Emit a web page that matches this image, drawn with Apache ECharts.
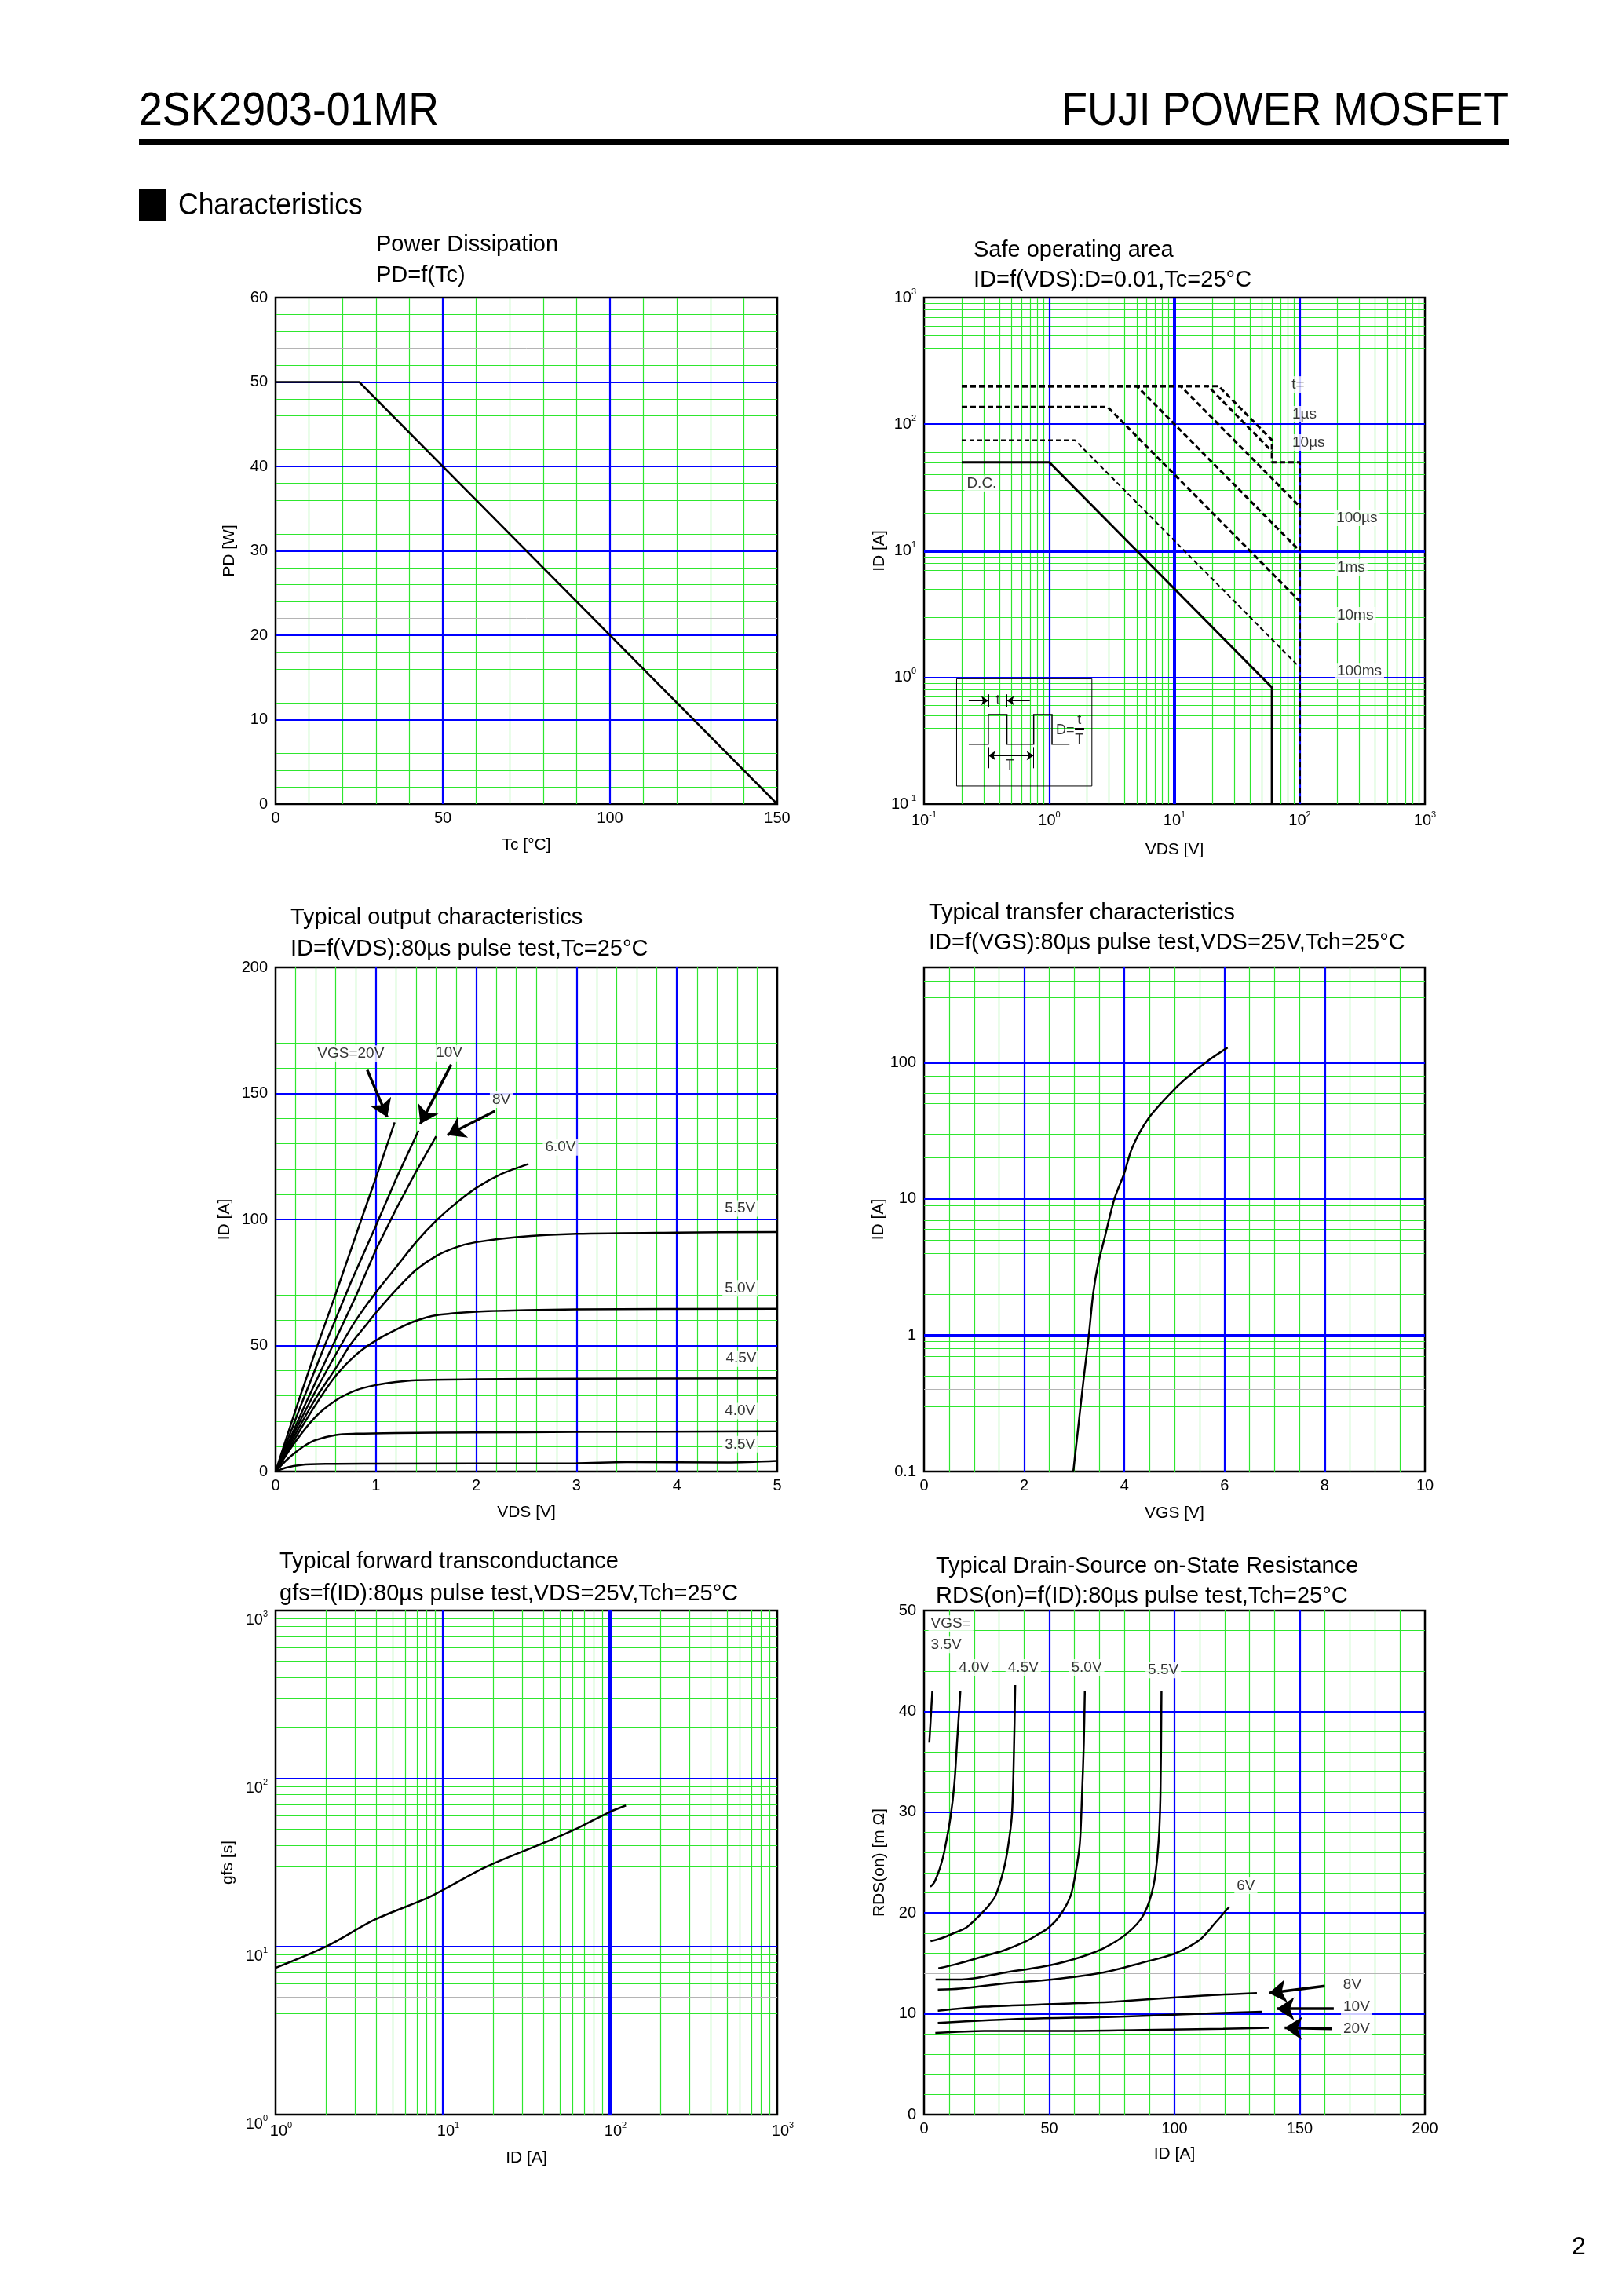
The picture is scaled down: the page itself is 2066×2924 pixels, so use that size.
<!DOCTYPE html>
<html><head><meta charset="utf-8">
<script src="https://cdn.jsdelivr.net/npm/echarts@6/dist/echarts.min.js"></script>
<style>html,body{margin:0;padding:0;background:#fff}#c{width:2066px;height:2924px}</style>
</head><body><div id="c"></div>
<script>
// ================= DATA =================
// 1) Power dissipation  PD=f(Tc)
const pdCurve = [[0,50],[25,50],[150,0]];
const pdXTicks = [0,50,100,150];
const pdYTicks = [0,10,20,30,40,50,60];

// 2) Safe operating area  ID=f(VDS)
const soaDC    = [[0.2,50],[1,50],[60,0.833],[60,0.1]];
const soa100ms = [[0.2,75],[1.6,75],[100,1.2]];
const soa10ms  = [[0.2,137],[2.92,137],[100,4.0]];
const soa1ms   = [[0.2,200],[5,200],[100,10]];
const soa100us = [[0.2,200],[11.2,200],[100,22.4]];
const soa10us  = [[0.2,200],[18.5,200],[60,61]];
const soa1us   = [[0.2,200],[22.5,200],[60,75],[60,50],[100,50],[100,0.1]];
const soaTicks = [0.1,1,10,100,1000];
const soaLabels = [['t=',82.6,206],['1µs',83.5,120],['10µs',83.5,71.8],['100µs',188,18.2],['1ms',190,7.4],['10ms',190,3.1],['100ms',190,1.12],['D.C.',0.21,34]];
const insetBox  = [[0.182,0.977],[2.19,0.977],[2.19,0.139],[0.182,0.139],[0.182,0.977]];
const insetWave = [[0.2275,0.297],[0.326,0.297],[0.326,0.509],[0.459,0.509],[0.459,0.297],[0.751,0.297],[0.751,0.509],[1.052,0.509],[1.052,0.297],[1.45,0.297]];
const insetTicks = [[[0.326,0.736],[0.326,0.585]],[[0.459,0.736],[0.459,0.585]],[[0.326,0.282],[0.326,0.192]],[[0.751,0.282],[0.751,0.192]]];
const insetArrows = [[[0.2275,0.656],[0.326,0.656]],[[0.70,0.656],[0.459,0.656]]];
const insetDouble = [[[0.326,0.2417],[0.751,0.2417]]];
const insetBar = [[[1.6,0.392],[1.9,0.392]]];
const insetLabels = [['t',0.388,0.656],['T',0.484,0.2],['D=',1.34,0.383],['t',1.74,0.46],['T',1.74,0.322]];

// 3) Typical output characteristics  ID=f(VDS)
const out20V = [[0,0],[0.2,24.5],[0.4,48],[0.6,70.5],[0.855,100],[1.0,116.5],[1.187,138.5]];
const out10V = [[0,0],[0.25,26],[0.49,50],[0.75,75],[1.0,97.5],[1.2,116],[1.425,135.3]];
const out8V  = [[0,0],[0.3,27],[0.57,50],[0.8,69.5],[1.0,88],[1.2,104],[1.4,119],[1.6,133]];
const out6V  = [[0,0],[0.2,16.5],[0.4,32],[0.65,50],[0.8,60],[1.0,71],[1.2,81],[1.4,91],[1.6,99.5],[1.8,106.5],[2.0,112.5],[2.25,118],[2.52,122]];
const out55V = [[0,0],[0.2,15],[0.4,29],[0.6,41],[0.74,50],[0.9,58],[1.0,63],[1.2,72],[1.4,80],[1.6,85.5],[1.8,89],[2.0,91],[2.4,93],[3.0,94.3],[4.0,94.8],[5.0,95]];
const out50V = [[0,0],[0.2,13.5],[0.4,26.5],[0.6,38],[0.8,46.3],[1.0,52],[1.2,56.3],[1.4,59.8],[1.6,62],[2.0,63.4],[2.5,64],[3.0,64.3],[5.0,64.6]];
const out45V = [[0,0],[0.2,12],[0.4,21.8],[0.6,28.2],[0.8,32.2],[1.0,34.3],[1.2,35.5],[1.4,36.2],[2.0,36.6],[3.0,36.8],[5.0,37]];
const out40V = [[0,0],[0.1,4.2],[0.2,7.6],[0.3,10.5],[0.4,12.5],[0.6,14.5],[0.8,15],[1.2,15.3],[2.0,15.5],[3.0,15.7],[5.0,16]];
const out35V = [[0,0],[0.1,1.5],[0.25,2.6],[0.5,3.0],[1.0,3.1],[3.0,3.3],[3.5,3.7],[4.5,3.6],[5.0,4.2]];
const outXTicks = [0,1,2,3,4,5];
const outYTicks = [0,50,100,150,200];
const outLabels = [['VGS=20V',0.75,165.8],['10V',1.73,166],['8V',2.25,147.5],['6.0V',2.84,128.6],['5.5V',4.63,104.4],['5.0V',4.63,72.7],['4.5V',4.64,44.8],['4.0V',4.63,24],['3.5V',4.63,10.8]];
const outArrows = [[[0.914,159.3],[1.113,140.6]],[[1.75,161.4],[1.443,137.9]],[[2.186,143],[1.713,133.5]]];

// 4) Typical transfer characteristics  ID=f(VGS)
const trCurve = [[2.98,0.1],[3.1,0.25],[3.2,0.53],[3.29,1.0],[3.38,2.07],[3.48,3.4],[3.6,5.1],[3.8,10],[3.99,15.2],[4.16,24],[4.48,39],[4.92,59.6],[5.2,75],[5.68,104],[6.06,129]];
const trXTicks = [0,2,4,6,8,10];
const trYTicks = [0.1,1,10,100];

// 5) Typical forward transconductance  gfs=f(ID)
const gfsCurve = [[1,7.47],[2.04,10.1],[3.94,14.5],[8.03,19.4],[10.1,21.8],[18.3,29.9],[39.4,41.1],[64.5,50.9],[100,63.4],[124.5,69.2]];
const gfsTicks = [1,10,100,1000];

// 6) Typical drain-source on-state resistance  RDS(on)=f(ID)
const r35V = [[2.1,36.9],[3.3,42]];
const r40V = [[2.5,22.6],[4.0,23.0],[5.7,24.0],[7.0,25.0],[8.1,26.1],[10.5,29.4],[12.1,32.8],[13.2,37],[14.5,42]];
const r45V = [[2.6,17.2],[7,17.5],[11.9,18.0],[17.1,18.6],[22.3,19.8],[26,20.8],[28.5,21.7],[31.6,24.1],[33.5,26.5],[35.1,29.8],[35.9,36.1],[36.4,42.6]];
const r50V = [[5.7,14.5],[14,15.0],[22.3,15.6],[32,16.3],[39.9,17.1],[45,17.8],[50,18.6],[54.4,19.8],[58.5,21.7],[60.6,24.1],[62.2,26.9],[63.1,31.9],[63.8,36.9],[64.2,42]];
const r55V = [[4.6,13.4],[15,13.4],[32.6,14.1],[50,14.8],[62.2,15.6],[71.7,16.5],[81.2,18.0],[87.6,19.8],[91.6,22.7],[93.6,26.9],[94.4,31.9],[94.8,42]];
const r6V  = [[5.5,12.4],[14.5,12.5],[32,13.0],[51,13.4],[71.7,14.1],[87.6,15.1],[100.3,16],[109.9,17.3],[116.2,19],[121.8,20.6]];
const r8V  = [[5.5,10.3],[24,10.7],[55.8,11.0],[76,11.2],[111.4,11.8],[132.9,12.05]];
const r10V = [[5.5,9.1],[39.9,9.5],[76,9.7],[103.5,9.95],[134.8,10.2]];
const r20V = [[4.5,8.1],[24,8.3],[55.8,8.3],[87.6,8.4],[119.4,8.5],[137.7,8.6]];
const rdsXTicks = [0,50,100,150,200];
const rdsYTicks = [0,10,20,30,40,50];
const rdsLabelsLeft = [['VGS=',1.75,48.7],['3.5V',1.75,46.6]];
const rdsLabels = [['4.0V',20,44.35],['4.5V',39.6,44.35],['5.0V',64.9,44.35],['5.5V',95.5,44.1],['6V',128.5,22.7],['8V',171,12.9],['10V',172.7,10.7],['20V',172.7,8.5]];
const rdsArrows = [[[160,12.76],[137.7,12.05]],[[163.6,10.5],[140.9,10.5]],[[163,8.5],[144,8.6]]];

// ================= RENDER =================
const FONT = '"Liberation Sans", Arial, Helvetica, sans-serif';
const GREEN = '#2ee62e', BLUE = '#0000ff', GREY = '#b4b4b4';
const sGreen = {color:GREEN, width:1.2, type:'solid', opacity:1};
const sBlue  = {color:BLUE, width:2.2, type:'solid', opacity:1};
const sThick = {color:BLUE, width:4, type:'solid', opacity:1};
const sGrey  = {color:GREY, width:1, type:'solid', opacity:1};

const grids = [
  {left:351, top:379, width:639, height:645},
  {left:1177, top:379, width:638, height:645},
  {left:351, top:1232, width:639, height:642},
  {left:1177, top:1232, width:638, height:642},
  {left:351, top:2051, width:639, height:642},
  {left:1177, top:2051, width:638, height:642}
];

function range(a,b,step){const r=[];for(let v=a;v<=b+1e-9;v+=step)r.push(+v.toFixed(6));return r;}
function without(arr,ex){return arr.filter(v=>!ex.some(e=>Math.abs(e-v)<1e-9));}
function logMinor(n0,n1){const r=[];for(let n=n0;n<n1;n++)for(let k=2;k<=9;k++)r.push(+(k*Math.pow(10,n)).toPrecision(6));return r;}
function has(ticks,v){return ticks.some(t=>Math.abs(t-v)<1e-9*Math.max(1,Math.abs(t)));}

function gridLines(gi, specs, zz){
  const data=[];
  specs.forEach(s=>{
    (s.x||[]).forEach(v=>data.push({xAxis:v, lineStyle:s.style}));
    (s.y||[]).forEach(v=>data.push({yAxis:v, lineStyle:s.style}));
  });
  return {type:'line', xAxisIndex:gi, yAxisIndex:gi, data:[], silent:true, symbol:'none', z:zz,
    markLine:{silent:true, z:zz, symbol:['none','none'], label:{show:false}, emphasis:{disabled:true}, animation:false, data}};
}
function curve(gi, data, opt){
  opt = opt || {};
  return {type:'line', xAxisIndex:gi, yAxisIndex:gi, data, symbol:'none', silent:true, z:10,
    smooth: opt.smooth===undefined ? 0.3 : opt.smooth, smoothMonotone: opt.mono,
    lineStyle:Object.assign({color:'#000', width:2.5, type:'solid'}, opt.ls||{})};
}
function labelSeries(gi, arr, opt){
  opt = opt || {};
  return {type:'scatter', xAxisIndex:gi, yAxisIndex:gi, symbolSize:1, silent:true, z:14,
    itemStyle:{color:'rgba(0,0,0,0)'},
    data: arr.map(a=>({name:a[0], value:[a[1],a[2]]})),
    label:{show:true, position:'inside', formatter:'{b}', color:'#000', fontFamily:FONT,
      fontSize: opt.fs || 19, align: opt.align || 'center', verticalAlign:'middle',
      backgroundColor: opt.nobg ? 'transparent' : '#fff', padding: opt.nobg ? 0 : [1,3]}};
}
function linesSeries(gi, arr, opt){
  opt = opt || {};
  return {type:'lines', coordinateSystem:'cartesian2d', xAxisIndex:gi, yAxisIndex:gi, silent:true, z:12,
    polyline: !!opt.polyline, symbol: opt.symbol || ['none','none'], symbolSize: opt.symbolSize || 10,
    lineStyle:{color:'#000', width: opt.width || 1.5, opacity:1, curveness:0},
    data: arr.map(c=>({coords:c}))};
}

const richSup = {
  b:{fontSize:20, fontFamily:FONT, color:'#000', lineHeight:26},
  s:{fontSize:11, fontFamily:FONT, color:'#000', lineHeight:11, verticalAlign:'top'}
};
function valAxis(gi, min, max, interval, ticks, name, gap, isX){
  return {gridIndex:gi, type:'value', min, max, interval,
    axisLine:{show:false}, axisTick:{show:false}, splitLine:{show:false},
    axisLabel:{show:true, color:'#000', fontSize:20, fontFamily:FONT, margin: isX?8:10,
      formatter: v => has(ticks,v) ? String(v) : ''},
    name, nameLocation:'middle', nameGap:gap,
    nameTextStyle:{color:'#000', fontSize:21, fontFamily:FONT}};
}
function logAxis(gi, min, max, ticks, sup, name, gap, isX, pad){
  return {gridIndex:gi, type:'log', logBase:10, min, max,
    axisLine:{show:false}, axisTick:{show:false}, splitLine:{show:false},
    axisLabel:{show:true, color:'#000', fontSize:20, fontFamily:FONT, margin: isX?8:10, padding: pad || 0,
      formatter: v => {
        const e = Math.log10(v), r = Math.round(e);
        if (Math.abs(e-r) > 1e-6) return '';
        if (!ticks.some(t=>Math.abs(Math.log10(t)-r)<1e-6)) return '';
        return sup ? '{b|10}{s|'+r+'}' : String(+Math.pow(10,r).toPrecision(6));
      }, rich: richSup},
    name, nameLocation:'middle', nameGap:gap,
    nameTextStyle:{color:'#000', fontSize:21, fontFamily:FONT}};
}

const xAxis = [
  valAxis(0, 0, 150, 50, pdXTicks, 'Tc [°C]', 42, true),
  logAxis(1, 0.1, 1000, soaTicks, true, 'VDS [V]', 48, true),
  valAxis(2, 0, 5, 1, outXTicks, 'VDS [V]', 42, true),
  valAxis(3, 0, 10, 2, trXTicks, 'VGS [V]', 43, true),
  logAxis(4, 1, 1000, gfsTicks, true, 'ID [A]', 45, true, [0,0,0,14]),
  valAxis(5, 0, 200, 50, rdsXTicks, 'ID [A]', 40, true)
];
const yAxis = [
  valAxis(0, 0, 60, 10, pdYTicks, 'PD [W]', 48, false),
  logAxis(1, 0.1, 1000, soaTicks, true, 'ID [A]', 44, false),
  valAxis(2, 0, 200, 50, outYTicks, 'ID [A]', 54, false),
  logAxis(3, 0.1, 500, trYTicks, false, 'ID [A]', 42, false),
  logAxis(4, 1, 1000, gfsTicks, true, 'gfs [s]', 50, false, [24,0,0,0]),
  valAxis(5, 0, 50, 10, rdsYTicks, 'RDS(on) [m Ω]', 46, false)
];

const dash = {type:[7,4], width:3};
const series = [
  // ---- chart 1
  gridLines(0, [{x:without(range(10,140,10),[50,100]), style:sGreen},
                {y:without(range(2,58,2),[10,20,30,40,50,22,54]), style:sGreen},
                {y:[22,54], style:sGrey}], 1),
  gridLines(0, [{x:[50,100], y:[10,20,30,40,50], style:sBlue}], 2),
  curve(0, pdCurve, {smooth:false}),
  // ---- chart 2
  gridLines(1, [{x:logMinor(-1,3), y:logMinor(-1,3), style:sGreen}], 1),
  gridLines(1, [{x:[1,100], y:[1,100], style:sBlue},{x:[10], y:[10], style:sThick}], 2),
  curve(1, soaDC, {smooth:false, ls:{width:3}}),
  curve(1, soa100ms, {smooth:false, ls:{type:[6,4], width:2}}),
  curve(1, soa10ms, {smooth:false, ls:dash}),
  curve(1, soa1ms, {smooth:false, ls:dash}),
  curve(1, soa100us, {smooth:false, ls:dash}),
  curve(1, soa10us, {smooth:false, ls:dash}),
  curve(1, soa1us, {smooth:false, ls:dash}),
  labelSeries(1, soaLabels, {align:'left'}),
  linesSeries(1, [insetBox], {polyline:true, width:1}),
  linesSeries(1, [insetWave], {polyline:true, width:1.5}),
  linesSeries(1, insetTicks, {width:1}),
  linesSeries(1, insetArrows, {width:1, symbol:['none','arrow'], symbolSize:9}),
  linesSeries(1, insetDouble, {width:1, symbol:['arrow','arrow'], symbolSize:9}),
  linesSeries(1, insetBar, {width:3}),
  labelSeries(1, insetLabels, {nobg:true, fs:18}),
  // ---- chart 3
  gridLines(2, [{x:without(range(0.2,4.8,0.2),[1,2,3,4]), y:without(range(10,190,10),[50,100,150]), style:sGreen}], 1),
  gridLines(2, [{x:[1,2,3,4], y:[50,100,150], style:sBlue}], 2),
  curve(2, out20V, {smooth:false}), curve(2, out10V, {smooth:false}), curve(2, out8V, {smooth:false}),
  curve(2, out6V), curve(2, out55V), curve(2, out50V), curve(2, out45V),
  curve(2, out40V), curve(2, out35V),
  labelSeries(2, outLabels),
  linesSeries(2, outArrows, {width:3.5, symbol:['none','arrow'], symbolSize:22}),
  // ---- chart 4
  gridLines(3, [{x:without(range(0.5,9.5,0.5),[2,4,6,8]), style:sGreen},
                {y:without(logMinor(-1,2).concat([200,300,400]),[0.4]), style:sGreen},
                {y:[0.4], style:sGrey}], 1),
  gridLines(3, [{x:[2,4,6,8], y:[10,100], style:sBlue},{y:[1], style:sThick}], 2),
  curve(3, trCurve),
  // ---- chart 5
  gridLines(4, [{x:logMinor(0,3), style:sGreen},{y:without(logMinor(0,3),[5]), style:sGreen},{y:[5], style:sGrey}], 1),
  gridLines(4, [{x:[10], y:[10,100], style:sBlue},{x:[100], style:sThick}], 2),
  curve(4, gfsCurve),
  // ---- chart 6
  gridLines(5, [{x:without(range(10,190,10),[50,100,150]), style:sGreen},
                {y:without(range(2,48,2),[10,20,30,40,14]), style:sGreen},
                {y:[14], style:sGrey}], 1),
  gridLines(5, [{x:[50,100,150], y:[10,20,30,40], style:sBlue}], 2),
  curve(5, r35V, {smooth:false}), curve(5, r40V), curve(5, r45V), curve(5, r50V), curve(5, r55V),
  curve(5, r6V), curve(5, r8V), curve(5, r10V), curve(5, r20V),
  labelSeries(5, rdsLabelsLeft, {align:'left'}),
  labelSeries(5, rdsLabels),
  linesSeries(5, rdsArrows, {width:3.5, symbol:['none','arrow'], symbolSize:22})
];

function txt(x, y, text, size, align, scaleX){
  return {type:'text', x, y, scaleX: scaleX || 1, z:10,
    style:{text, font: size+'px '+FONT, fill:'#000', textAlign:align||'left', align:align||'left',
      textVerticalAlign:'middle', verticalAlign:'middle'}};
}
const titleLines = [
  [479,312,'Power Dissipation'],[479,351,'PD=f(Tc)'],
  [1240,319,'Safe operating area'],[1240,357,'ID=f(VDS):D=0.01,Tc=25°C'],
  [370,1169,'Typical output characteristics'],[370,1209,'ID=f(VDS):80µs pulse test,Tc=25°C'],
  [1183,1163,'Typical transfer characteristics'],[1183,1201,'ID=f(VGS):80µs pulse test,VDS=25V,Tch=25°C'],
  [356,1989,'Typical forward transconductance'],[356,2030,'gfs=f(ID):80µs pulse test,VDS=25V,Tch=25°C'],
  [1192,1995,'Typical Drain-Source on-State Resistance'],[1192,2033,'RDS(on)=f(ID):80µs pulse test,Tch=25°C']
];
const graphic = [
  txt(177, 143, '2SK2903-01MR', 59, 'left', 0.91),
  txt(1922, 143, 'FUJI POWER MOSFET', 59, 'right', 0.91),
  {type:'rect', z:10, shape:{x:177, y:177, width:1745, height:8}, style:{fill:'#000'}},
  {type:'rect', z:10, shape:{x:177, y:241, width:34, height:41}, style:{fill:'#000'}},
  txt(227, 262, 'Characteristics', 39, 'left', 0.91),
  txt(2011, 2862, '2', 32, 'center')
].concat(titleLines.map(t=>txt(t[0], t[1], t[2], 29, 'left')));

const chart = echarts.init(document.getElementById('c'), null, {renderer:'canvas', width:2066, height:2924});
chart.setOption({
  animation:false,
  backgroundColor:'#fff',
  grid: grids.map(g=>Object.assign({show:true, borderColor:'#000', borderWidth:2.5, backgroundColor:'transparent'}, g)),
  xAxis, yAxis, series, graphic
});
</script></body></html>
